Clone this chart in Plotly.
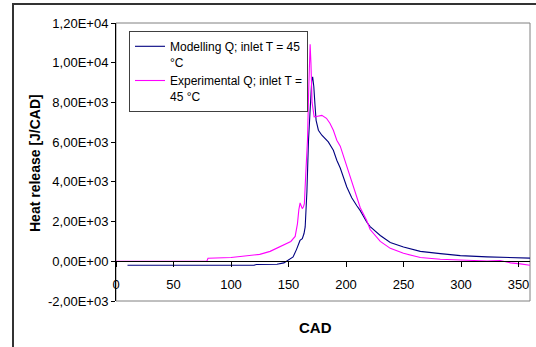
import plotly.graph_objects as go

# Modelling Q (blue)
mod_cad = [10, 60, 120, 122, 140, 146, 150, 154, 157, 158.7, 160, 162, 163.5, 164.5, 166, 167.4,
           169, 170.2, 171, 172, 173, 174, 176, 179, 184.6, 189, 192, 195, 200.7, 205, 209.4,
           212.4, 218, 221, 229.8, 238.5, 250, 264.6, 282, 299.4, 322.6, 348.7, 360]
mod_q = [-200, -200, -200, -160, -150, -80, 50, 220, 600, 900, 1050, 1140, 1400, 1730, 3500, 6100,
         8300, 9100, 9290, 8800, 7900, 7100, 6600, 6350, 6010, 5590, 5090, 4700, 3740, 3200, 2800,
         2550, 1980, 1750, 1300, 950, 720, 500, 385, 285, 220, 170, 160]

# Experimental Q (magenta)
exp_cad = [0, 79, 80, 100, 110, 125, 134, 145.6, 152, 155.8, 157.8, 159, 160.1, 161, 162, 163, 163.8,
           165, 166.5, 167.5, 168.3, 168.8, 169.5, 170.5, 172.3, 175, 179, 183, 186, 189, 192, 195,
           200.7, 205, 209.4, 212.4, 218, 221, 229.8, 238.5, 250, 264.6, 282, 299.4, 322.6, 334,
           343, 351.6, 360]
exp_q = [0, 0, 150, 190, 250, 350, 500, 800, 1000, 1250, 1900, 2600, 2940, 2800, 2650, 2750, 2900,
         4400, 6100, 8500, 10300, 10930, 10000, 8000, 7270, 7300, 7350, 7200, 6950, 6600, 6100, 5800,
         4750, 4000, 3240, 2700, 2050, 1600, 1000, 650, 400, 190, 100, 50, 15, 40,
         -80, -130, -200]

y_ticks = [-2000, 0, 2000, 4000, 6000, 8000, 10000, 12000]
y_ticktext = ["-2,00E+03", "0,00E+00", "2,00E+03", "4,00E+03", "6,00E+03", "8,00E+03", "1,00E+04", "1,20E+04"]
x_ticks = [0, 50, 100, 150, 200, 250, 300, 350]

FONT = "Arial, Liberation Sans, sans-serif"

fig = go.Figure()
fig.add_trace(go.Scatter(x=mod_cad, y=mod_q, mode="lines", name="Modelling Q; inlet T = 45<br>°C",
                         line=dict(color="#000080", width=1.1)))
fig.add_trace(go.Scatter(x=exp_cad, y=exp_q, mode="lines", name="Experimental Q; inlet T =<br>45 °C",
                         line=dict(color="#FF00FF", width=1.1)))

L, R, T, B = 116, 6, 23, 46
W, H = 536, 347
pw, ph = W - L - R, H - T - B

def px2x(px):
    return (px - L) / pw

def px2y(py):
    return (H - B - py) / ph

fig.update_layout(
    width=W, height=H,
    margin=dict(l=L, r=R, t=T, b=B),
    paper_bgcolor="white", plot_bgcolor="white",
    font=dict(family=FONT, size=12, color="black"),
    showlegend=True,
    legend=dict(x=px2x(129), y=px2y(31), xanchor="left", yanchor="top",
                bgcolor="white", bordercolor="#404040", borderwidth=1,
                font=dict(family=FONT, size=12, color="black"),
                valign="top", tracegroupgap=2, itemwidth=30),
    xaxis=dict(range=[0, 360], tickvals=x_ticks, ticktext=[str(v) for v in x_ticks],
               anchor="free", position=px2y(261), showline=True, linecolor="black", linewidth=1,
               ticks="outside", ticklen=5, tickcolor="black", showgrid=False, zeroline=False,
               tickfont=dict(size=13), ticklabelstandoff=6),
    yaxis=dict(range=[-2000, 12000], tickvals=y_ticks, ticktext=y_ticktext,
               showline=True, linecolor="black", linewidth=1, ticks="outside", ticklen=4,
               tickcolor="black", showgrid=False, zeroline=False, tickfont=dict(size=13)),
)

# plot-area gray border
fig.add_shape(type="rect", xref="paper", yref="paper", x0=0, y0=0, x1=1, y1=1,
              line=dict(color="#808080", width=1), layer="below")
# outer chart frame (left and top edges)
fig.add_shape(type="path", xref="paper", yref="paper",
              path=f"M {px2x(13)},{px2y(360)} L {px2x(13)},{px2y(4)} L {px2x(545)},{px2y(4)}",
              line=dict(color="#333333", width=2))

fig.add_annotation(text="<b>Heat release [J/CAD]</b>", xref="paper", yref="paper",
                   x=px2x(35), y=px2y(163), textangle=-90, showarrow=False,
                   xanchor="center", yanchor="middle",
                   font=dict(family=FONT, size=14, color="black"))
fig.add_annotation(text="<b>CAD</b>", xref="paper", yref="paper",
                   x=px2x(315), y=px2y(327), showarrow=False,
                   xanchor="center", yanchor="middle",
                   font=dict(family=FONT, size=15, color="black"))

fig.write_html("out.html")
